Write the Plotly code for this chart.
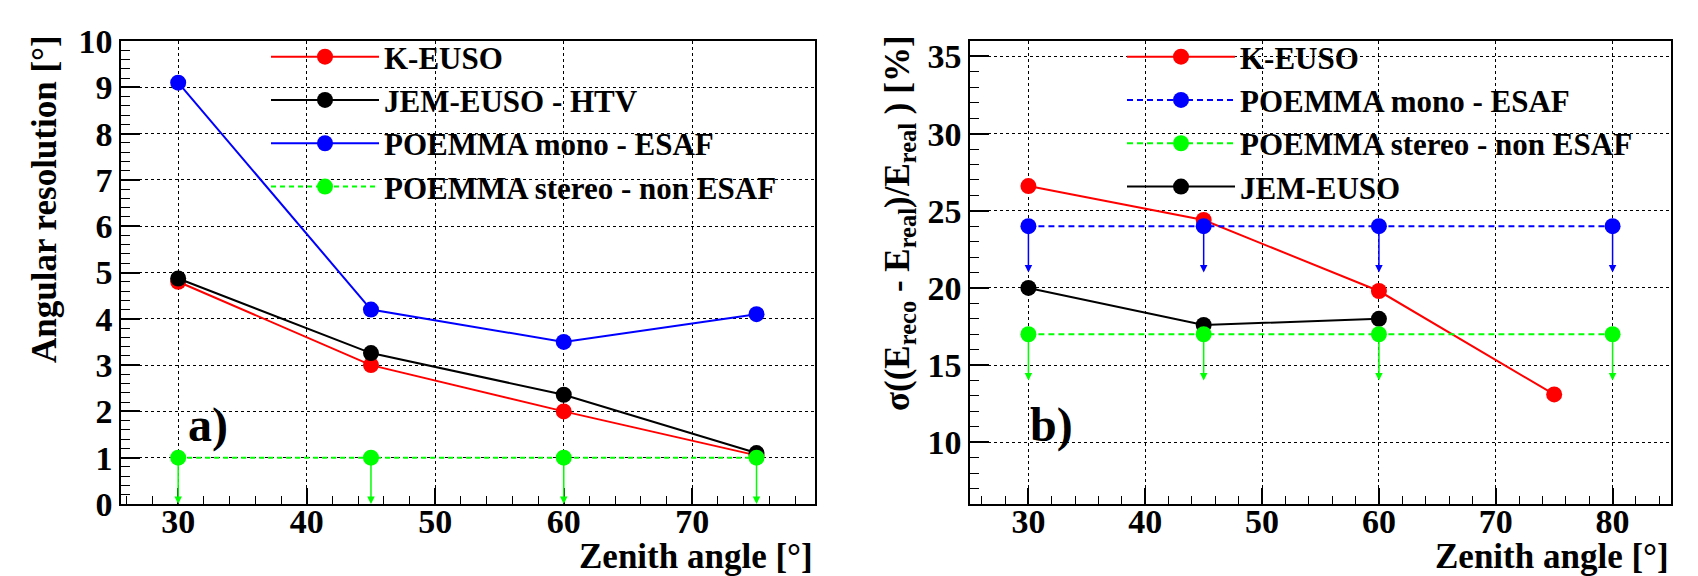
import plotly.graph_objects as go

W, H = 1698, 576

# ---- panel a) angular resolution vs zenith angle
zen_a = [30, 45, 60, 75]
keuso_a = [4.8, 3.0, 2.0, 1.05]
jem_htv_a = [4.87, 3.26, 2.36, 1.1]
mono_a = [9.1, 4.2, 3.5, 4.1]
stereo_a = [1.0, 1.0, 1.0, 1.0]
stereo_a_limit = 1.0        # length of the upper-limit arrows

# ---- panel b) energy resolution vs zenith angle
zen_keuso_b = [30, 45, 60, 75]
keuso_b = [26.6, 24.4, 19.8, 13.1]
zen_jem_b = [30, 45, 60]
jem_b = [20.0, 17.6, 18.0]
zen_poemma_b = [30, 45, 60, 80]
mono_b = [24.0, 24.0, 24.0, 24.0]
stereo_b = [17.0, 17.0, 17.0, 17.0]
poemma_b_limit = 3.0

RED, BLACK, BLUE, GREEN = "#ff0000", "#000000", "#0000ff", "#00ff00"
FAMILY = "Liberation Serif"
tick_font = dict(family=FAMILY, size=34, color="black", weight="bold")
title_font = dict(family=FAMILY, size=35, color="black", weight="bold")
legend_font = dict(family=FAMILY, size=31, color="black", weight="bold")


def series(x, y, name, color, xa, ya, legend, dash="solid", width=2, rank=None):
    return go.Scatter(x=x, y=y, name=name, mode="lines+markers",
                      line=dict(color=color, width=width, dash=dash),
                      marker=dict(color=color, size=16),
                      xaxis=xa, yaxis=ya, legend=legend,
                      legendrank=rank if rank else 1000)


fig = go.Figure()
fig.add_trace(series(zen_a, keuso_a, "K-EUSO", RED, "x", "y", "legend"))
fig.add_trace(series(zen_a, jem_htv_a, "JEM-EUSO - HTV", BLACK, "x", "y", "legend"))
fig.add_trace(series(zen_a, mono_a, "POEMMA mono - ESAF", BLUE, "x", "y", "legend"))
fig.add_trace(series(zen_a, stereo_a, "POEMMA stereo - non ESAF", GREEN, "x", "y", "legend",
                     dash="5px,4px"))

fig.add_trace(series(zen_keuso_b, keuso_b, "K-EUSO", RED, "x2", "y2", "legend2", rank=1))
fig.add_trace(series(zen_poemma_b, mono_b, "POEMMA mono - ESAF", BLUE, "x2", "y2", "legend2",
                     dash="6px,4px", rank=2))
fig.add_trace(series(zen_jem_b, jem_b, "JEM-EUSO", BLACK, "x2", "y2", "legend2", rank=4))
fig.add_trace(series(zen_poemma_b, stereo_b, "POEMMA stereo - non ESAF", GREEN, "x2", "y2",
                     "legend2", dash="6px,4px", rank=3))

# upper-limit arrows
arrows = []
for xs, ys, L, color, xr, yr in [(zen_a, stereo_a, stereo_a_limit, GREEN, "x", "y"),
                                 (zen_poemma_b, mono_b, poemma_b_limit, BLUE, "x2", "y2"),
                                 (zen_poemma_b, stereo_b, poemma_b_limit, GREEN, "x2", "y2")]:
    for xv, yv in zip(xs, ys):
        arrows.append(dict(x=xv, y=yv - L, ax=xv, ay=yv, xref=xr, yref=yr, axref=xr, ayref=yr,
                           text="", showarrow=True, arrowhead=2, arrowsize=1, arrowwidth=1.5,
                           arrowcolor=color, standoff=0, startstandoff=0))


def axis(rng, dtick, mdtick, tlen, mlen, domain, anchor, standoff):
    return dict(range=rng, dtick=dtick, tick0=0, domain=domain, anchor=anchor,
                ticks="inside", ticklen=tlen, tickwidth=1.5, tickcolor="black",
                ticklabelstandoff=standoff,
                minor=dict(dtick=mdtick, tick0=0, ticks="inside", ticklen=mlen, tickwidth=1,
                           tickcolor="black", showgrid=False),
                showgrid=True, gridcolor="black", griddash="dot", gridwidth=1,
                showline=True, linecolor="black", linewidth=1.5, mirror=True,
                zeroline=False, tickfont=tick_font, fixedrange=True)


ydom = [(H - 496) / H, (H - 33) / H]
fig.update_layout(
    width=W, height=H, margin=dict(l=0, r=0, t=0, b=0, autoexpand=False),
    paper_bgcolor="white", plot_bgcolor="white",
    xaxis=axis([25.55, 79.55], 10, 2, 16, 8, [113 / W, 807 / W], "y", -14),
    yaxis=axis([0, 10], 1, 0.2, 19, 9, ydom, "x", 0),
    xaxis2=axis([25, 85], 10, 2, 16, 8, [962 / W, 1663 / W], "y2", -14),
    yaxis2=axis([6, 36], 5, 1, 19, 9, ydom, "x2", 0),
    legend=dict(x=258 / W, y=(H - 22) / H, xanchor="left", yanchor="top", font=legend_font,
                itemwidth=108, bgcolor="rgba(0,0,0,0)", tracegroupgap=0),
    legend2=dict(x=1114 / W, y=(H - 22) / H, xanchor="left", yanchor="top", font=legend_font,
                 itemwidth=108, bgcolor="rgba(0,0,0,0)", tracegroupgap=0),
    showlegend=True,
)

labels = [
    dict(text="Zenith angle [°]", xref="x domain", yref="paper", x=1, y=(H - 548) / H,
         xanchor="right", yanchor="middle", font=title_font),
    dict(text="Zenith angle [°]", xref="x2 domain", yref="paper", x=1, y=(H - 548) / H,
         xanchor="right", yanchor="middle", font=title_font),
    dict(text="Angular resolution [°]", xref="paper", yref="paper", x=36 / W, y=(H - 25) / H,
         xanchor="center", yanchor="top", textangle=-90, font=title_font),
    dict(text="σ((E<sub>reco</sub> - E<sub>real</sub>)/E<sub>real</sub> ) [%]",
         xref="paper", yref="paper", x=891 / W, y=(H - 25) / H,
         xanchor="center", yanchor="top", textangle=-90, font=title_font),
    dict(text="a)", xref="x", yref="y", x=32.3, y=1.7, xanchor="center", yanchor="middle",
         font=dict(family=FAMILY, size=48, color="black", weight="bold")),
    dict(text="b)", xref="x2", yref="y2", x=32.0, y=11.1, xanchor="center", yanchor="middle",
         font=dict(family=FAMILY, size=48, color="black", weight="bold")),
]
for a in labels:
    a["showarrow"] = False
fig.update_layout(annotations=arrows + labels)

fig.write_html("out.html")
